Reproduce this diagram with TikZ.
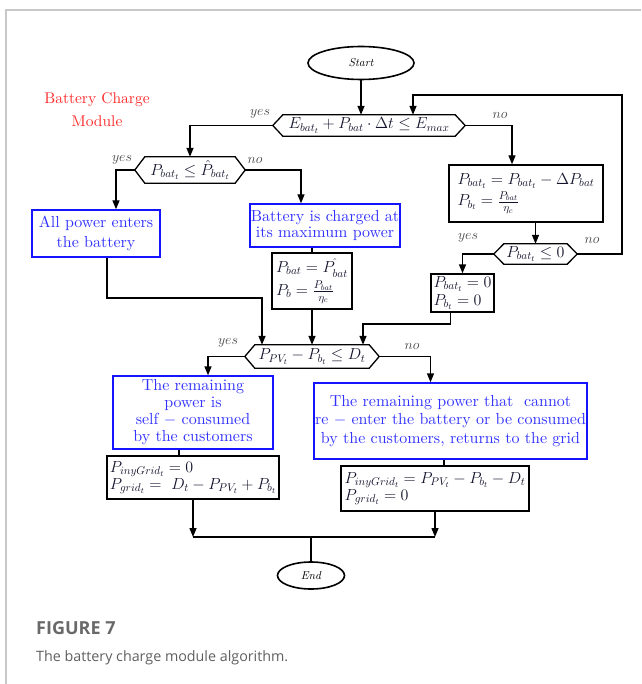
\RequirePackage{fix-cm}
\documentclass[tikz,border=0pt]{standalone}
\usepackage{amsmath}
\usepackage{fontspec}
\setmainfont{lmroman10-regular.otf}[ItalicFont=lmroman10-italic.otf, BoldFont=lmroman10-bold.otf]
\newfontfamily\capfont{Open Sans}
\usetikzlibrary{arrows.meta,shapes.geometric,calc}
\definecolor{boxblue}{RGB}{20,20,255}
\definecolor{txtblue}{RGB}{50,50,255}
\definecolor{modred}{RGB}{255,40,40}
\definecolor{labgray}{RGB}{70,70,70}
\definecolor{framegray}{RGB}{200,200,200}
\definecolor{capgray}{RGB}{105,105,105}
\definecolor{mathink}{RGB}{20,20,45}
\begin{document}
\begin{tikzpicture}[x=1pt,y=-1pt,
  base/.style={font=\fontsize{16}{17}\selectfont, inner sep=1pt},
  bluebox/.style={base, draw=boxblue, line width=1.4pt, text=txtblue, align=center},
  mathbox/.style={base, draw=black, line width=1.4pt, text=mathink, align=left},
  decision/.style={base, inner sep=0pt, text=mathink},
  hexline/.style={line width=1.3pt, line join=miter},
  terminal/.style={ellipse, draw, line width=1.6pt, font=\fontsize{11.5}{12}\selectfont\itshape, inner sep=0pt},
  arr/.style={line width=1.4pt, -{Triangle[length=9pt,width=7pt]}},
  link/.style={line width=1.4pt},
  lab/.style={font=\fontsize{14}{14}\selectfont, text=labgray, inner sep=0pt},
]
\useasboundingbox (0,0) rectangle (641,684);
% page frame
\draw[framegray, line width=1.5pt] (641,10) -- (6,10) -- (6,684);

% module title
\node[font=\fontsize{15.5}{23}\selectfont, text=modred, align=center] (title) at (97,110) {Battery Charge\\Module};

% terminals
\node[terminal, minimum width=106pt, minimum height=33pt] (start) at (361,63) {Start};
\node[terminal, minimum width=67pt, minimum height=27pt] (end) at (311,575.5) {End};

% decisions
\node[decision, minimum width=192pt, minimum height=21pt] (d1) at (369,125.5)
  {$E_{bat_t}+P_{bat}\cdot\Delta t\le E_{max}$};
\node[decision, minimum width=110pt, minimum height=26pt] (d2) at (190,170)
  {$P_{bat_t}\le \hat{P}_{bat_t}$};
\node[decision, minimum width=83pt, minimum height=20pt] (d3) at (535.5,254)
  {$P_{bat_t}\le 0$};
\node[decision, minimum width=134pt, minimum height=23pt] (d4) at (312,356.5)
  {$P_{PV_t}-P_{b_t}\le D_t$};
\foreach \n in {d1,d2,d3,d4}{
  \draw[hexline] (\n.west) -- ([xshift=10pt]\n.north west) -- ([xshift=-10pt]\n.north east)
    -- (\n.east) -- ([xshift=-10pt]\n.south east) -- ([xshift=10pt]\n.south west) -- cycle;
}

% process boxes
\node[bluebox, minimum width=128pt, minimum height=47pt, font=\fontsize{16}{20}\selectfont] (b1) at (96,233.5)
  {All power enters\\the battery};
\node[bluebox, minimum width=150pt, minimum height=43pt, font=\fontsize{16}{16.5}\selectfont] (b2) at (325,225.5)
  {Battery is charged at\\its maximum power};
\node[mathbox, minimum width=80pt, minimum height=56pt] (f2) at (312,281)
  {$P_{bat}=P^{\hat{}}_{bat}$\\[3pt]$P_b=\frac{P_{bat}}{\eta_c}$};
\node[mathbox, minimum width=154pt, minimum height=57pt] (f1) at (526,193.5)
  {$P_{bat_t}=P_{bat_t}-\Delta P_{bat}$\\[2pt]$P_{b_t}=\frac{P_{bat}}{\eta_c}$};
\node[mathbox, minimum width=63pt, minimum height=38pt] (f3) at (462.5,293)
  {$P_{bat_t}=0$\\[1pt]$P_{b_t}=0$};
\node[bluebox, minimum width=160pt, minimum height=73pt] (b3) at (193,412.5)
  {The remaining\\power is\\self $-$ consumed\\by the customers};
\node[mathbox, minimum width=172pt, minimum height=43pt] (f4) at (193,477.5)
  {$P_{inyGrid_t}=0$\\$P_{grid_t}=\ D_t-P_{PV_t}+P_{b_t}$};
\node[bluebox, minimum width=273pt, minimum height=76pt, font=\fontsize{16}{18.5}\selectfont] (b4) at (450.5,421)
  {The remaining power that\ \ cannot\\re $-$ enter the battery or be consumed\\by the customers, returns to the grid};
\node[mathbox, minimum width=188pt, minimum height=45pt] (f5) at (435,488.5)
  {$P_{inyGrid_t}=P_{PV_t}-P_{b_t}-D_t$\\$P_{grid_t}=0$};

% junction points
\coordinate (loopR) at (622,95);
\coordinate (loopT) at (413,95);
\coordinate (j1) at (262,298);
\coordinate (j2) at (363,324);
\coordinate (m) at (311,537);

% connectors
\draw[arr] (start.south) -- (start.south |- d1.north);
\draw[arr] (d3.east) -| (loopR) -- (loopT) -- (loopT |- d1.north);
\draw[arr] (d1.west) -| (d2.north);
\draw[arr] (d1.east) -| ([xshift=-14pt]f1.north);
\draw[arr] (d2.west) -| ([xshift=20pt]b1.north);
\draw[arr] (d2.east) -| ([xshift=-24pt]b2.north);
\draw[link] (f2.north |- b2.south) -- (f2.north);
\draw[arr] (f2.south) -- (f2.south |- d4.north);
\draw[arr] ([xshift=11pt]b1.south) |- (j1) -- (j1 |- d4.north);
\draw[arr] (d3.north |- f1.south) -- (d3.north);
\draw[arr] (d3.west) -| (f3.north);
\draw[arr] ([xshift=-12pt]f3.south) |- (j2) -- (j2 |- d4.north);
\draw[arr] (d4.west) -| ([xshift=15pt]b3.north);
\draw[arr] (d4.east) -| ([xshift=-20pt]b4.north);
\draw[link] ([xshift=-14pt]b3.south) -- ([xshift=-14pt]f4.north);
\draw[link] ([xshift=-6.5pt]b4.south) -- ([xshift=-6.5pt]b4.south |- f5.north);
\draw[arr] (f4.south) -- (f4.south |- m);
\draw[arr] (f5.south) -- (f5.south |- m);
\draw[link] (f4.south |- m) -- (f5.south |- m);
\draw[link] (m) -- (end.north);

% branch labels
\node[lab] (y1) at (260,114) {$yes$};
\node[lab] (n1) at (500,115) {$no$};
\node[lab] (y2) at (122,160) {$yes$};
\node[lab] (n2) at (255,160) {$no$};
\node[lab] (y3) at (468,238) {$yes$};
\node[lab] (n3) at (592,240) {$no$};
\node[lab] (y4) at (228,343) {$yes$};
\node[lab] (n4) at (412,346) {$no$};

% caption
\node[anchor=west, inner sep=0pt, font=\capfont\bfseries\fontsize{18}{18}\selectfont, text=capgray] (fig) at (36,628) {FIGURE 7};
\node[anchor=west, inner sep=0pt, font=\capfont\fontsize{14.3}{16}\selectfont, text=capgray!90!black] (cap) at (36,658) {The battery charge module algorithm.};
\end{tikzpicture}
\end{document}
